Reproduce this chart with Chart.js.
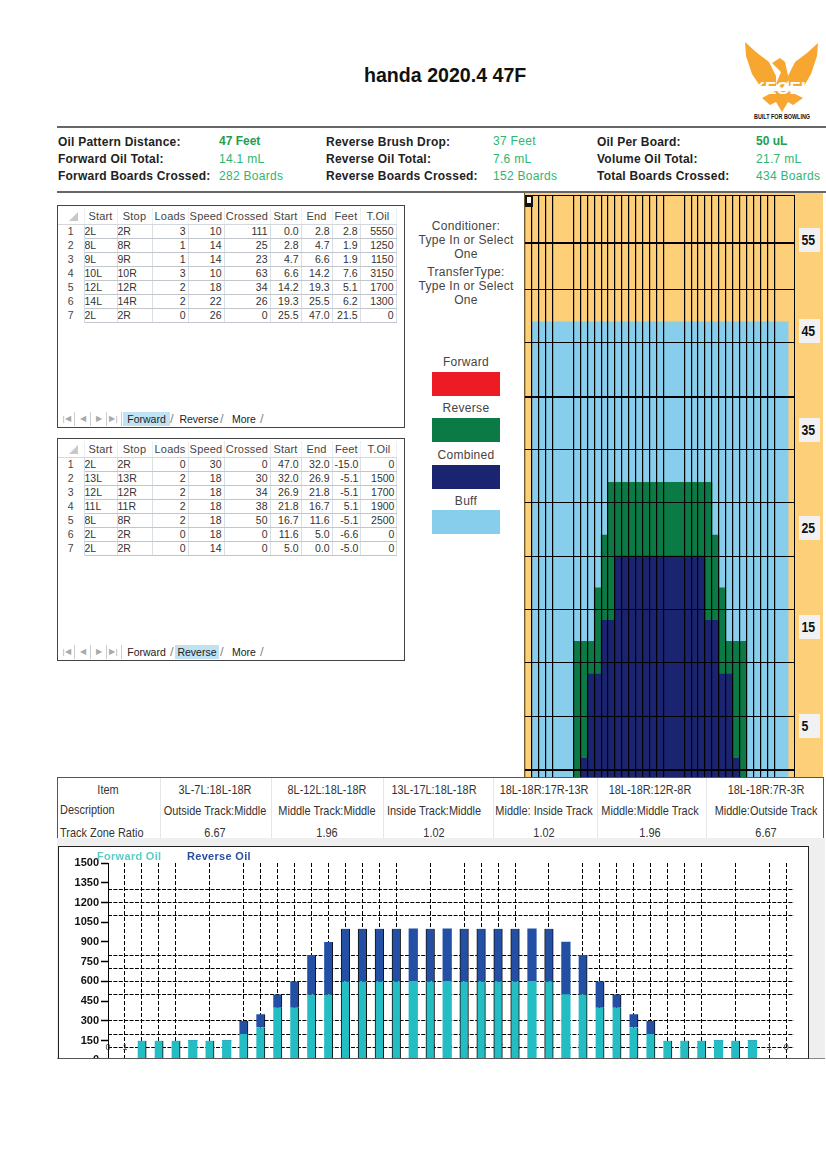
<!DOCTYPE html>
<html>
<head>
<meta charset="utf-8">
<title>handa 2020.4 47F</title>
<script src="https://cdn.jsdelivr.net/npm/chart.js@4/dist/chart.umd.min.js"></script>
<style>
  html, body { margin:0; padding:0; background:#fff; }
  body { position:relative; width:826px; height:1169px; overflow:hidden; font-family:"Liberation Sans",Arial,sans-serif; color:#222; }
  .abs { position:absolute; white-space:nowrap; }
  .lbl { font-size:12px; font-weight:bold; letter-spacing:.22px; color:#222; }
  .val { font-size:12px; letter-spacing:.3px; color:#2fb56f; }
  .val.b { font-weight:bold; color:#1f9e4c; letter-spacing:0; }
  .mid { width:120px; left:406px; text-align:center; font-size:12px; letter-spacing:.3px; color:#444; line-height:14px; white-space:normal; }
  .swatch { left:432px; width:68px; height:24px; }
  .sheet { position:absolute; left:57px; width:346px; border:1px solid #444; background:#fff; overflow:hidden; }
  .sheet table { border-collapse:collapse; table-layout:fixed; position:absolute; left:0; top:2px; font-size:10.5px; color:#333; }
  .sheet th { font-weight:normal; height:16px; padding:0 1px; text-align:center; color:#444; font-size:11px; letter-spacing:.2px; border-right:1px solid #eceff2; border-bottom:1px solid #d4d8dc; }
  .sheet td { height:13px; line-height:13px; padding:0 2px 0 2px; text-align:right; border-right:1px solid #d8e0e6; border-bottom:1px solid #c0c6cc; overflow:hidden; }
  .sheet td.t { text-align:left; padding-left:0; }
  .sheet td.n { text-align:center; border-bottom:0; border-right:1px solid #d4dde4; color:#444; font-size:10.5px; }
  .corner { position:absolute; left:11px; top:6px; width:0; height:0; border-left:9px solid transparent; border-bottom:9px solid #c8c8c8; }
  .tabs { position:absolute; left:1px; bottom:1px; height:14px; font-size:10.5px; color:#222; }
  .tabs span { position:absolute; top:0; height:14px; line-height:14px; text-align:center; }
  .tabs .nav { width:15px; color:#aaa; font-size:8px; border-right:1px solid #ccc; }
  .tabs .on { background:#bfe3f2; }
  .tabs .sl { color:#888; font-size:13px; }
  .peg { left:799px; width:21px; height:24px; background:#f1f1f1; font-size:15px; font-weight:bold; line-height:24px; color:#111; }
  .peg b { display:inline-block; padding-left:3px; transform:scaleX(.82); transform-origin:left center; }
  .ratio { position:absolute; left:57px; top:777px; width:765px; height:61px; border:1px solid #555; border-bottom:0; background:#fff; overflow:hidden; font-size:13.5px; color:#333; }
  .ratio div { position:absolute; white-space:nowrap; transform:scaleX(.81); transform-origin:center top; }
  .ratio div.l { transform-origin:left top; }
  .ratio .c { text-align:center; }
  .ratio .v { position:absolute; top:0; width:1px; height:61px; background:#e4e8ec; }
</style>
</head>
<body>

<div class="abs" style="left:364px;top:64px;font-size:19.6px;font-weight:bold;color:#111">handa 2020.4 47F</div>

<svg class="abs" style="left:730px;top:30px" width="96" height="96" viewBox="730 30 96 96">
  <g fill="#f7a630">
    <polygon points="745,42 756,52 769,62 776,76 776,86 760,86 752,74 746,56"/>
    <polygon points="818,43 807,53 795,62 788,76 789,86 804,86 811,74 817,56"/>
    <polygon points="772,63 780,58 785,62 789,80 782,88 776,84 781,72"/>
    <polygon points="762,98 775,91 789,91 803,98 793,105 788,102 782,112 776,102 770,105"/>
  </g>
  <text x="782" y="94" text-anchor="middle" font-size="17" font-weight="bold" fill="#fff" font-family="Liberation Sans">KEGEL</text>
  <text x="782" y="119" text-anchor="middle" font-size="7" font-weight="bold" fill="#111" textLength="56" lengthAdjust="spacingAndGlyphs" font-family="Liberation Sans">BUILT FOR BOWLING</text>
</svg>

<div class="abs" style="left:57px;top:126px;width:769px;height:2px;background:#666"></div>
<div class="abs" style="left:57px;top:191px;width:769px;height:2px;background:#666"></div>

<div class="abs lbl" style="left:58px;top:135px">Oil Pattern Distance:</div>
<div class="abs lbl" style="left:58px;top:152px">Forward Oil Total:</div>
<div class="abs lbl" style="left:58px;top:169px">Forward Boards Crossed:</div>
<div class="abs val b" style="left:219px;top:134px">47 Feet</div>
<div class="abs val" style="left:219px;top:152px">14.1 mL</div>
<div class="abs val" style="left:219px;top:169px">282 Boards</div>
<div class="abs lbl" style="left:326px;top:135px">Reverse Brush Drop:</div>
<div class="abs lbl" style="left:326px;top:152px">Reverse Oil Total:</div>
<div class="abs lbl" style="left:326px;top:169px">Reverse Boards Crossed:</div>
<div class="abs val" style="left:493px;top:134px">37 Feet</div>
<div class="abs val" style="left:493px;top:152px">7.6 mL</div>
<div class="abs val" style="left:493px;top:169px">152 Boards</div>
<div class="abs lbl" style="left:597px;top:135px">Oil Per Board:</div>
<div class="abs lbl" style="left:597px;top:152px">Volume Oil Total:</div>
<div class="abs lbl" style="left:597px;top:169px">Total Boards Crossed:</div>
<div class="abs val b" style="left:756px;top:134px">50 uL</div>
<div class="abs val" style="left:756px;top:152px">21.7 mL</div>
<div class="abs val" style="left:756px;top:169px">434 Boards</div>

<div class="sheet" style="top:205px;height:221px">
  <table id="forwardTable"></table>
  <div class="corner"></div>
  <div class="tabs">
    <span class="nav" style="left:0">|&#9664;</span><span class="nav" style="left:16px">&#9664;</span><span class="nav" style="left:32px">&#9654;</span><span class="nav" style="left:47px">&#9654;|</span>
    <span class="on" style="left:64px;width:47px">Forward</span><span class="sl" style="left:111px">/</span>
    <span style="left:120px;width:40px">Reverse</span><span class="sl" style="left:161px">/</span>
    <span style="left:170px;width:30px">More</span><span class="sl" style="left:201px">/</span>
  </div>
</div>

<div class="sheet" style="top:438px;height:221px">
  <table id="reverseTable"></table>
  <div class="corner"></div>
  <div class="tabs">
    <span class="nav" style="left:0">|&#9664;</span><span class="nav" style="left:16px">&#9664;</span><span class="nav" style="left:32px">&#9654;</span><span class="nav" style="left:47px">&#9654;|</span>
    <span style="left:64px;width:47px">Forward</span><span class="sl" style="left:111px">/</span>
    <span class="on" style="left:116px;width:44px">Reverse</span><span class="sl" style="left:161px">/</span>
    <span style="left:170px;width:30px">More</span><span class="sl" style="left:201px">/</span>
  </div>
</div>

<div class="abs mid" style="top:219px">Conditioner:<br>Type In or Select<br>One</div>
<div class="abs mid" style="top:265px">TransferType:<br>Type In or Select<br>One</div>

<div class="abs mid" style="top:355px">Forward</div>
<div class="abs swatch" style="top:372px;background:#ed1c24"></div>
<div class="abs mid" style="top:401px">Reverse</div>
<div class="abs swatch" style="top:418px;background:#0b7a45"></div>
<div class="abs mid" style="top:448px">Combined</div>
<div class="abs swatch" style="top:465px;background:#1a2470"></div>
<div class="abs mid" style="top:494px">Buff</div>
<div class="abs swatch" style="top:510px;background:#87cdec"></div>

<!-- lane graph -->
<div class="abs" style="left:524px;top:193px;width:299px;height:585px;background:#fdcf78"></div>
<div class="abs" style="left:524px;top:193px;width:1px;height:585px;background:#6d5a30"></div>
<canvas id="laneChart" class="abs" style="left:525px;top:195px" width="270" height="582"></canvas>
<div class="abs" style="left:525px;top:195px;width:4px;height:6px;border:2px solid #111;border-bottom-width:4px;background:#fff"></div>
<div class="abs peg" style="top:228px"><b>55</b></div>
<div class="abs peg" style="top:319px"><b>45</b></div>
<div class="abs peg" style="top:418px"><b>35</b></div>
<div class="abs peg" style="top:516px"><b>25</b></div>
<div class="abs peg" style="top:615px"><b>15</b></div>
<div class="abs peg" style="top:714px"><b>5</b></div>

<!-- track zone table -->
<div class="ratio" id="ratioBox"></div>

<!-- oil bars -->
<div class="abs" style="left:57px;top:838px;width:768px;height:220px;background:#efefef;border-bottom:1px solid #888"></div>
<div class="abs" style="left:58px;top:846px;width:749px;height:211px;background:#fff;border:1px solid #222;border-bottom:1px solid #555;overflow:hidden" id="oilBox">
  <canvas id="oilChart" style="position:absolute;left:0;top:0" width="735" height="222"></canvas>
</div>
<div class="abs" style="left:97px;top:850px;font-size:11px;font-weight:bold;letter-spacing:.3px;color:#5fcbc6">Forward Oil</div>
<div class="abs" style="left:187px;top:850px;font-size:11px;font-weight:bold;letter-spacing:.3px;color:#2a4fa0">Reverse Oil</div>

<script>
//sheet tables
var sheetHeaders = ['', 'Start', 'Stop', 'Loads', 'Speed', 'Crossed', 'Start', 'End', 'Feet', 'T.Oil'];
var sheetWidths = [26, 33, 35, 36, 36, 46, 31, 31, 28, 36];

var forwardRows = [
  ['2L', '2R', 3, 10, 111, '0.0', '2.8', '2.8', 5550],
  ['8L', '8R', 1, 14, 25, '2.8', '4.7', '1.9', 1250],
  ['9L', '9R', 1, 14, 23, '4.7', '6.6', '1.9', 1150],
  ['10L', '10R', 3, 10, 63, '6.6', '14.2', '7.6', 3150],
  ['12L', '12R', 2, 18, 34, '14.2', '19.3', '5.1', 1700],
  ['14L', '14R', 2, 22, 26, '19.3', '25.5', '6.2', 1300],
  ['2L', '2R', 0, 26, 0, '25.5', '47.0', '21.5', 0]
];

var reverseRows = [
  ['2L', '2R', 0, 30, 0, '47.0', '32.0', '-15.0', 0],
  ['13L', '13R', 2, 18, 30, '32.0', '26.9', '-5.1', 1500],
  ['12L', '12R', 2, 18, 34, '26.9', '21.8', '-5.1', 1700],
  ['11L', '11R', 2, 18, 38, '21.8', '16.7', '5.1', 1900],
  ['8L', '8R', 2, 18, 50, '16.7', '11.6', '-5.1', 2500],
  ['2L', '2R', 0, 18, 0, '11.6', '5.0', '-6.6', 0],
  ['2L', '2R', 0, 14, 0, '5.0', '0.0', '-5.0', 0]
];

//track zone table
var zoneItems = ['3L-7L:18L-18R', '8L-12L:18L-18R', '13L-17L:18L-18R', '18L-18R:17R-13R', '18L-18R:12R-8R', '18L-18R:7R-3R'];
var zoneDescriptions = ['Outside Track:Middle', 'Middle Track:Middle', 'Inside Track:Middle', 'Middle: Inside Track', 'Middle:Middle Track', 'Middle:Outside Track'];
var zoneRatios = ['6.67', '1.96', '1.02', '1.02', '1.96', '6.67'];

//lane graph, one value per board, 1L to 1R, heights in feet, null = nothing on that board
var boards = ['1L','2L','3L','4L','5L','6L','7L','8L','9L','10L','11L','12L','13L','14L','15L','16L','17L','18L','19L','20',
              '19R','18R','17R','16R','15R','14R','13R','12R','11R','10R','9R','8R','7R','6R','5R','4R','3R','2R','1R'];
var laneLength = [60,60,60,60,60,60,60,60,60,60,60,60,60,60,60,60,60,60,60,60,60,60,60,60,60,60,60,60,60,60,60,60,60,60,60,60,60,60,60];
var buffHeight = [null,46.75,46.75,46.75,46.75,46.75,46.75,46.75,46.75,46.75,46.75,46.75,46.75,46.75,46.75,46.75,46.75,46.75,46.75,46.75,46.75,46.75,46.75,46.75,46.75,46.75,46.75,46.75,46.75,46.75,46.75,46.75,46.75,46.75,46.75,46.75,46.75,46.75,null];
var reverseHeight = [null,null,null,null,null,null,null,13.4,13.4,13.4,19,24.5,30,30,30,30,30,30,30,30,30,30,30,30,30,30,30,24.5,19,13.4,13.4,13.4,null,null,null,null,null,null,null];
var combinedHeight = [null,null,null,null,null,null,null,null,1.2,10,10,15.6,15.6,22.3,22.3,22.3,22.3,22.3,22.3,22.3,22.3,22.3,22.3,22.3,22.3,22.3,15.6,15.6,10,10,1.2,null,null,null,null,null,null,null,null];
var laneGridFeet = [0,5.6,11.2,16.7,22.3,27.9,33.4,38.9,44.6,50.1,55,60];
var laneHeavyFeet = [0,38.9,55];
var laneNoLine = [5,6,21,22,37,38];

//oil bars, position 2 to 38
var oilPositions = [2,3,4,5,6,7,8,9,10,11,12,13,14,15,16,17,18,19,20,21,22,23,24,25,26,27,28,29,30,31,32,33,34,35,36,37,38];
var forwardOil = [150,150,150,150,150,150,200,250,400,400,500,500,600,600,600,600,600,600,600,600,600,600,600,600,600,500,500,400,400,250,200,150,150,150,150,150,150];
var reverseOil = [0,0,0,0,0,0,100,100,100,200,300,400,400,400,400,400,400,400,400,400,400,400,400,400,400,400,300,200,100,100,100,0,0,0,0,0,0];
var oilTickLabels = [0,1,2,3,4,5,6,7,8,9,10,11,12,13,14,15,16,17,18,19,20,19,18,17,16,15,14,13,12,11,10,9,8,7,6,5,4,3,2,1,0];
var oilNoLine = [0,5,7,18,20,25,27,36,38];
var oilGridValues = [100,200,300,500,600,700,800,1100,1200,1300];


function fillSheet(id, rows){
  var html = '<colgroup>';
  sheetWidths.forEach((w) => { html += '<col style="width:' + w + 'px">'; });
  html += '</colgroup><tr>';
  sheetHeaders.forEach((h) => { html += '<th>' + h + '</th>'; });
  html += '</tr>';
  rows.forEach((row, i) => {
    html += '<tr><td class="n">' + (i + 1) + '</td>';
    row.forEach((cell, j) => {
      html += '<td' + (j < 2 ? ' class="t"' : '') + '>' + cell + '</td>';
    });
    html += '</tr>';
  });
  document.getElementById(id).innerHTML = html;
}
fillSheet('forwardTable', forwardRows);
fillSheet('reverseTable', reverseRows);


// ratio table
var zoneCenters = [157, 269, 376, 486, 592, 708];
var zoneEdges = [102, 213, 325, 435, 539, 648];
var box = document.getElementById('ratioBox');
var zoneHtml = '<div class="c" style="left:0;top:4px;width:100px">Item</div>' +
               '<div class="l" style="left:2px;top:24px">Description</div>' +
               '<div class="l" style="left:2px;top:47px">Track Zone Ratio</div>';
zoneEdges.forEach((x) => { zoneHtml += '<span class="v" style="left:' + x + 'px"></span>'; });
zoneItems.forEach((t, i) => {
  var l = zoneCenters[i] - 70;
  zoneHtml += '<div class="c" style="left:' + l + 'px;width:140px;top:4px">' + t + '</div>';
  zoneHtml += '<div class="c" style="left:' + l + 'px;width:140px;top:25px">' + zoneDescriptions[i] + '</div>';
  zoneHtml += '<div class="c" style="left:' + l + 'px;width:140px;top:47px">' + zoneRatios[i] + '</div>';
});
box.innerHTML = zoneHtml;


//lane chart
new Chart(document.getElementById('laneChart').getContext('2d'), {
  type: 'bar',
  data: {
    labels: boards,
    datasets: [
      { label: 'Combined', data: combinedHeight, backgroundColor: '#1a2470', order: 1 },
      { label: 'Reverse', data: reverseHeight, backgroundColor: '#0b7a45', order: 2 },
      { label: 'Buff', data: buffHeight, backgroundColor: '#87cdec', order: 3 },
      { label: 'Lane', data: laneLength, backgroundColor: '#fdcf78', order: 4 }
    ]
  },
  options: {
    responsive: false,
    animation: false,
    layout: { padding: 0 },
    plugins: { legend: { display: false }, tooltip: { enabled: false } },
    datasets: { bar: { grouped: false, barPercentage: 1, categoryPercentage: 1, base: -0.75 } },
    scales: {
      x: {
        offset: true,
        ticks: { display: false, autoSkip: false },
        border: { display: false },
        grid: {
          z: 1,
          offset: true,
          drawTicks: false,
          lineWidth: 1.2,
          color: (ctx) => laneNoLine.includes(ctx.index) ? 'rgba(0,0,0,0)' : '#000'
        }
      },
      y: {
        min: -0.75,
        max: 60,
        afterBuildTicks: (scale) => { scale.ticks = laneGridFeet.map((v) => ({ value: v })); },
        ticks: { display: false },
        border: { display: false },
        grid: {
          z: 1,
          drawTicks: false,
          color: '#000',
          lineWidth: (ctx) => ctx.tick && laneHeavyFeet.includes(ctx.tick.value) ? 2 : 1
        }
      }
    }
  }
});


//oil chart
function oilPoints(values){
  return values.map((v, i) => ({ x: oilPositions[i], y: v }));
}

//dark edge only shows on bars that sit on a grid line
function oilEdge(ctx){
  var pos = ctx.raw ? ctx.raw.x : 0;
  if (oilNoLine.includes(pos)) return 0;
  return (pos >= 14 && pos <= 26) ? { left: 1, right: 1 } : { right: 1 };
}

new Chart(document.getElementById('oilChart').getContext('2d'), {
  type: 'bar',
  data: {
    datasets: [
      { label: 'Forward Oil', data: oilPoints(forwardOil), backgroundColor: '#25bdc4', borderColor: '#111', borderWidth: oilEdge, borderSkipped: false, barThickness: 8.6 },
      { label: 'Reverse Oil', data: oilPoints(reverseOil), backgroundColor: '#2350a5', borderColor: '#111', borderWidth: oilEdge, borderSkipped: false, barThickness: 8.6 }
    ]
  },
  options: {
    responsive: false,
    animation: false,
    layout: { padding: { left: 0, right: 0, top: 16, bottom: 8 } },
    plugins: { legend: { display: false }, tooltip: { enabled: false } },
    scales: {
      x: {
        type: 'linear',
        stacked: true,
        offset: false,
        min: 0,
        max: 40.45,
        position: { y: 140 },
        border: { display: false, dash: [4, 2] },
        ticks: {
          stepSize: 1,
          includeBounds: false,
          autoSkip: false,
          maxRotation: 0,
          padding: 0,
          color: '#444',
          font: { size: 9 },
          callback: (v) => oilTickLabels[v]
        },
        grid: {
          offset: false,
          drawTicks: false,
          lineWidth: 1,
          color: (ctx) => ctx.tick && oilNoLine.includes(ctx.tick.value) ? 'rgba(0,0,0,0)' : '#000'
        }
      },
      y: {
        stacked: true,
        min: 0,
        max: 1500,
        afterFit: (scale) => { scale.width = 49; },
        border: { color: '#000' },
        ticks: {
          stepSize: 150,
          autoSkip: false,
          color: '#111',
          padding: 2,
          font: { family: 'Liberation Sans', size: 11, weight: 'bold' },
          callback: (v) => String(v)
        },
        grid: { drawOnChartArea: false, tickLength: 7, tickColor: '#000', tickWidth: 1.5 }
      },
      y2: {
        min: 0,
        max: 1500,
        position: 'left',
        afterBuildTicks: (scale) => { scale.ticks = oilGridValues.map((v) => ({ value: v })); },
        afterFit: (scale) => { scale.width = 0; },
        ticks: { display: false },
        border: { display: false, dash: [4, 1.4] },
        grid: { drawTicks: false, color: '#000', lineWidth: 1 }
      }
    }
  }
});
</script>
</body>
</html>
